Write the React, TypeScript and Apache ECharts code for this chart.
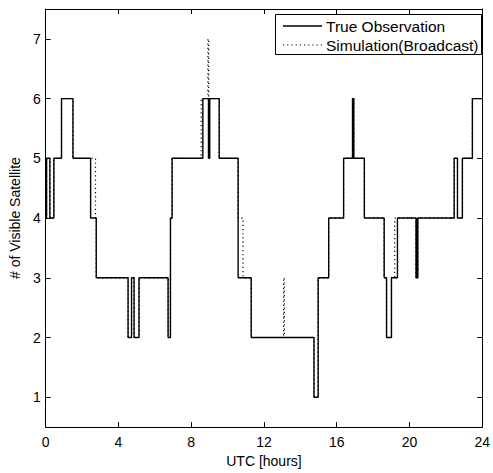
import React, { useEffect, useRef } from "react";
import * as echarts from "echarts";

// True observation: value holds from time[i] until time[i+1]
const trueTimes = [0, 0.05, 0.23, 0.45, 0.87, 1.5, 2.47, 2.78, 4.53, 4.72, 4.86, 5.13, 6.73, 6.86, 6.95, 8.64, 8.95, 9.02, 9.54, 10.58, 11.3, 14.75, 14.98, 15.56, 16.38, 16.87, 16.94, 17.52, 18.61, 18.74, 19.01, 19.34, 20.36, 20.4, 20.42, 20.46, 22.46, 22.64, 22.91, 23.46, 24];
const trueValues = [4, 5, 4, 5, 6, 5, 4, 3, 2, 3, 2, 3, 2, 4, 5, 6, 5, 6, 5, 3, 2, 1, 3, 4, 5, 6, 5, 4, 3, 2, 3, 4, 3, 4, 3, 4, 5, 4, 5, 6, 6];

// Simulation (broadcast ephemeris)
const simTimes = [0, 0.05, 0.23, 0.45, 0.87, 1.5, 2.74, 2.78, 4.53, 4.72, 4.86, 5.13, 6.73, 6.86, 6.95, 8.55, 8.92, 8.96, 9.54, 10.58, 10.85, 11.3, 13.08, 13.12, 14.75, 14.98, 15.56, 16.38, 16.87, 16.94, 17.52, 18.61, 18.74, 19.01, 19.19, 20.36, 20.4, 20.42, 20.46, 22.46, 22.64, 22.91, 23.46, 24];
const simValues = [4, 5, 4, 5, 6, 5, 4, 3, 2, 3, 2, 3, 2, 4, 5, 6, 7, 6, 5, 4, 3, 2, 3, 2, 1, 3, 4, 5, 6, 5, 4, 3, 2, 3, 4, 3, 4, 3, 4, 5, 4, 5, 6, 6];

const xTicks = [0, 4, 8, 12, 16, 20, 24];
const seriesNames = ["True Observation", "Simulation(Broadcast)"];
const xTitle = "UTC [hours]";
const yTitle = "# of Visible Satellite";

const FONT = "Liberation Sans, Arial, Helvetica, sans-serif";
const DOT: number[] = [1.2, 3];

export default function App() {
  const ref = useRef<HTMLDivElement>(null);
  useEffect(() => {
    if (!ref.current) return;
    const chart = echarts.init(ref.current, null, { renderer: "svg" });
    const zip = (t: number[], v: number[]) => t.map((x, i) => [x, v[i]]);
    const axisCommon = {
      axisLine: { show: true, onZero: false, lineStyle: { color: "#000", width: 1 } },
      axisTick: { show: true, inside: true, length: 5, lineStyle: { color: "#000" } },
      splitLine: { show: false },
    };
    const legendText = (text: string, y: number) => ({
      type: "text",
      x: 326,
      y,
      style: {
        text,
        fill: "#000",
        fontSize: 15.5,
        fontFamily: FONT,
        verticalAlign: "middle",
        align: "left",
      },
      z: 101,
    });
    chart.setOption({
      animation: false,
      backgroundColor: "#fff",
      textStyle: { fontFamily: FONT, color: "#000" },
      grid: { left: 44, right: 7, top: 9, bottom: 40 },
      graphic: [
        {
          type: "rect",
          shape: { x: 275.5, y: 14.5, width: 206, height: 40 },
          style: { fill: "#fff", stroke: "#000", lineWidth: 1 },
          z: 100,
        },
        {
          type: "line",
          shape: { x1: 283, y1: 26, x2: 322, y2: 26 },
          style: { stroke: "#000", lineWidth: 1.4 },
          z: 101,
        },
        {
          type: "line",
          shape: { x1: 283, y1: 45, x2: 322, y2: 45 },
          style: { stroke: "#000", lineWidth: 1.2, lineDash: DOT },
          z: 101,
        },
        legendText(seriesNames[0], 26),
        legendText(seriesNames[1], 45),
      ],
      xAxis: [
        {
          type: "value",
          min: xTicks[0],
          max: xTicks[xTicks.length - 1],
          interval: 4,
          position: "bottom",
          name: xTitle,
          nameLocation: "middle",
          nameGap: 22,
          nameTextStyle: { fontSize: 14, fontFamily: FONT, color: "#000" },
          axisLabel: { fontSize: 14, margin: 8, color: "#000", fontFamily: FONT },
          ...axisCommon,
        },
        {
          type: "value",
          min: xTicks[0],
          max: xTicks[xTicks.length - 1],
          interval: 4,
          position: "top",
          axisLabel: { show: false },
          ...axisCommon,
        },
      ],
      yAxis: [
        {
          type: "value",
          min: 0.5,
          max: 7.5,
          splitNumber: 7,
          position: "left",
          name: yTitle,
          nameLocation: "middle",
          nameGap: 22,
          nameTextStyle: { fontSize: 14, fontFamily: FONT, color: "#000" },
          axisLabel: {
            fontSize: 14,
            margin: 5,
            color: "#000",
            fontFamily: FONT,
            showMinLabel: false,
            showMaxLabel: false,
            formatter: (v: number) => (Number.isInteger(v) ? String(v) : ""),
          },
          ...axisCommon,
        },
        {
          type: "value",
          min: 0.5,
          max: 7.5,
          splitNumber: 7,
          position: "right",
          axisLabel: { show: false },
          ...axisCommon,
        },
      ],
      series: [
        {
          name: seriesNames[1],
          type: "line",
          step: "end",
          symbol: "none",
          data: zip(simTimes, simValues),
          lineStyle: { color: "#000", width: 1.2, type: DOT },
          itemStyle: { color: "#000" },
          z: 2,
        },
        {
          name: seriesNames[0],
          type: "line",
          step: "end",
          symbol: "none",
          data: zip(trueTimes, trueValues),
          lineStyle: { color: "#000", width: 1.4, type: "solid" },
          itemStyle: { color: "#000" },
          z: 3,
        },
      ],
    });
    return () => chart.dispose();
  }, []);
  return (
    <div
      ref={ref}
      style={{ position: "fixed", left: 0, top: 0, width: 493, height: 473, background: "#fff" }}
    />
  );
}
